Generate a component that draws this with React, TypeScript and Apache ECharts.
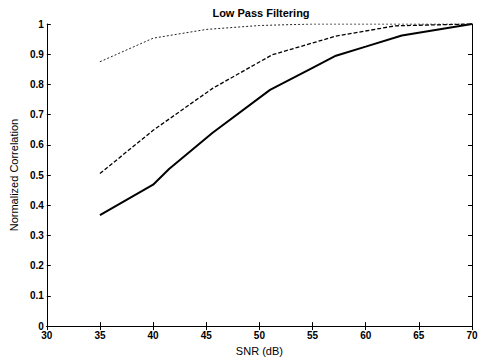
import React, { useEffect, useRef } from "react";
import * as echarts from "echarts";

const snrSolid = [35, 40, 41.5, 45.6, 51, 55, 57.2, 60, 63.4, 70];
const valSolid = [0.367, 0.468, 0.52, 0.64, 0.782, 0.855, 0.895, 0.925, 0.962, 1.0];

const snrDashed = [35, 40, 45.6, 51.2, 57.2, 62.8, 70];
const valDashed = [0.505, 0.648, 0.787, 0.898, 0.96, 0.994, 1.0];

const snrDotted = [35, 40, 45, 50, 55, 60, 65, 70];
const valDotted = [0.875, 0.953, 0.982, 0.995, 1.0, 1.0, 1.0, 1.0];

const titleText = "Low Pass Filtering";
const xName = "SNR (dB)";
const yName = "Normalized Correlation";

const pairs = (xs: number[], ys: number[]) => xs.map((x, i) => [x, ys[i]]);

export default function App() {
  const ref = useRef<HTMLDivElement>(null);
  useEffect(() => {
    if (!ref.current) return;
    const chart = echarts.init(ref.current, undefined, { renderer: "svg" });
    const font = "Liberation Sans, Arial, sans-serif";
    const labelStyle = { color: "#000", fontSize: 10, fontWeight: "bold" as const, fontFamily: font };
    const lineStyle = { color: "#000", width: 1 };
    const baseX = {
      type: "value" as const,
      min: 30,
      max: 70,
      interval: 5,
      axisLine: { show: true, lineStyle },
      axisTick: { show: true, inside: true, length: 4, lineStyle },
      splitLine: { show: false },
    };
    const baseY = {
      type: "value" as const,
      min: 0,
      max: 1,
      interval: 0.1,
      axisLine: { show: true, lineStyle },
      axisTick: { show: true, inside: true, length: 4, lineStyle },
      splitLine: { show: false },
    };
    chart.setOption({
      animation: false,
      backgroundColor: "#fff",
      title: {
        text: titleText,
        left: 256,
        textAlign: "center",
        top: 2,
        textStyle: { color: "#000", fontSize: 11, fontWeight: "bold", fontFamily: font },
      },
      grid: { left: 41, right: 12, top: 24, bottom: 29 },
      xAxis: [
        {
          ...baseX,
          position: "bottom",
          name: xName,
          nameLocation: "middle",
          nameGap: 17,
          nameTextStyle: { color: "#000", fontSize: 11, fontFamily: font },
          axisLabel: { ...labelStyle, margin: 4 },
        },
        { ...baseX, position: "top", axisLabel: { show: false } },
      ],
      yAxis: [
        {
          ...baseY,
          position: "left",
          name: yName,
          nameLocation: "middle",
          nameGap: 25,
          nameTextStyle: { color: "#000", fontSize: 11, fontFamily: font },
          axisLabel: {
            ...labelStyle,
            margin: 3,
            formatter: (v: number) => String(Number(v.toFixed(1))),
          },
        },
        { ...baseY, position: "right", axisLabel: { show: false } },
      ],
      series: [
        {
          type: "line",
          data: pairs(snrSolid, valSolid),
          showSymbol: false,
          lineStyle: { color: "#000", width: 2, type: "solid" },
        },
        {
          type: "line",
          data: pairs(snrDashed, valDashed),
          showSymbol: false,
          lineStyle: { color: "#000", width: 1.3, type: [4, 2] },
        },
        {
          type: "line",
          data: pairs(snrDotted, valDotted),
          showSymbol: false,
          lineStyle: { color: "#222", width: 1, type: [2, 2] },
        },
      ],
    });
    return () => chart.dispose();
  }, []);
  return <div ref={ref} style={{ width: 484, height: 361, position: "fixed", left: 0, top: 0 }} />;
}
